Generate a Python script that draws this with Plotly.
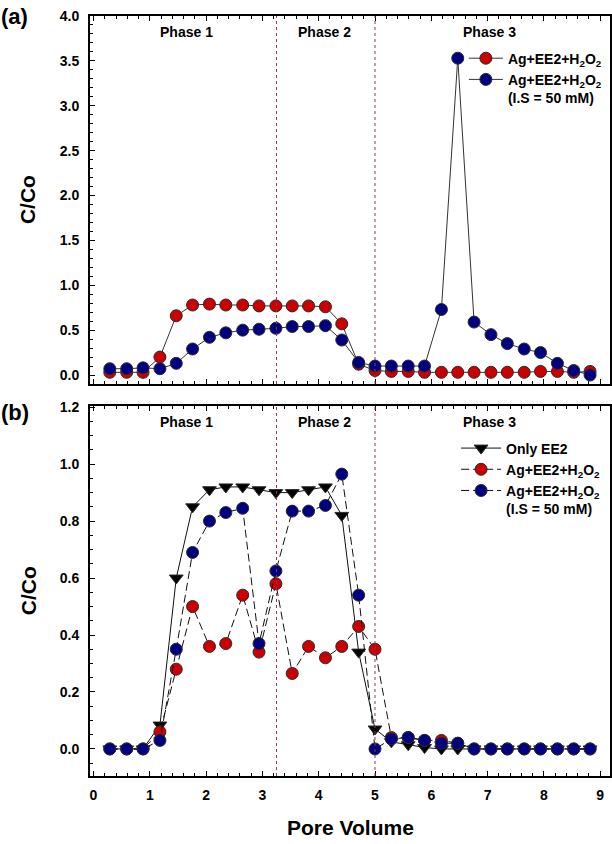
import plotly.graph_objects as go
from plotly.subplots import make_subplots

# ---- data ----
pore_volume = [0.29, 0.59, 0.88, 1.18, 1.47, 1.76, 2.06, 2.35, 2.65, 2.94,
               3.24, 3.53, 3.82, 4.12, 4.41, 4.71, 5.00, 5.29, 5.59, 5.88,
               6.18, 6.47, 6.76, 7.06, 7.35, 7.65, 7.94, 8.24, 8.53, 8.82]

a_ag = [0.03, 0.03, 0.03, 0.20, 0.66, 0.78, 0.79, 0.78, 0.78, 0.77,
        0.77, 0.77, 0.77, 0.76, 0.57, 0.12, 0.05, 0.04, 0.04, 0.03,
        0.03, 0.03, 0.03, 0.03, 0.03, 0.03, 0.04, 0.04, 0.03, 0.04]
a_ag_is = [0.07, 0.07, 0.08, 0.07, 0.13, 0.29, 0.42, 0.47, 0.50, 0.51,
           0.52, 0.54, 0.54, 0.55, 0.39, 0.14, 0.10, 0.10, 0.10, 0.10,
           0.73, 3.53, 0.59, 0.45, 0.35, 0.29, 0.25, 0.13, 0.05, 0.00]

b_ee2 = [0.0, 0.0, 0.0, 0.084, 0.60, 0.85, 0.91, 0.92, 0.92, 0.91,
         0.90, 0.90, 0.91, 0.92, 0.82, 0.34, 0.07, 0.025, 0.015, 0.005,
         0.0, 0.0, 0.0, 0.0, 0.0, 0.0, 0.0, 0.0, 0.0, 0.0]
b_ag = [0.0, 0.0, 0.0, 0.06, 0.28, 0.50, 0.36, 0.37, 0.54, 0.34,
        0.58, 0.265, 0.36, 0.32, 0.36, 0.43, 0.35, 0.04, 0.04, 0.03,
        0.03, 0.02, 0.0, 0.0, 0.0, 0.0, 0.0, 0.0, 0.0, 0.0]
b_ag_is = [0.0, 0.0, 0.0, 0.03, 0.35, 0.69, 0.80, 0.83, 0.845, 0.37,
           0.625, 0.835, 0.835, 0.855, 0.965, 0.54, 0.0, 0.035, 0.04, 0.03,
           0.02, 0.02, 0.0, 0.0, 0.0, 0.0, 0.0, 0.0, 0.0, 0.0]

phase_bounds = [3.25, 5.0]
phase_labels = ["Phase 1", "Phase 2", "Phase 3"]
phase_label_x = [1.66, 4.1, 7.04]

x_ticks = [0, 1, 2, 3, 4, 5, 6, 7, 8, 9]
ya_ticks = [0.0, 0.5, 1.0, 1.5, 2.0, 2.5, 3.0, 3.5, 4.0]
yb_ticks = [0.0, 0.2, 0.4, 0.6, 0.8, 1.0, 1.2]

name_ag = "Ag+EE2+H<sub>2</sub>O<sub>2</sub>"
name_ag_is = "Ag+EE2+H<sub>2</sub>O<sub>2</sub><br>(I.S = 50 mM)"

RED = "#cc0000"
BLUE = "#000080"
EDGE = "#2a2a2a"
FONT = "Liberation Sans, Arial, sans-serif"

fig = make_subplots(rows=2, cols=1, vertical_spacing=0.03)

mk = dict(size=12, line=dict(color=EDGE, width=1))

# panel (a)
fig.add_trace(go.Scatter(x=pore_volume, y=a_ag, mode="lines+markers", name=name_ag,
                         line=dict(color="#333333", width=1),
                         marker=dict(color=RED, symbol="circle", **mk),
                         legend="legend"), row=1, col=1)
fig.add_trace(go.Scatter(x=pore_volume, y=a_ag_is, mode="lines+markers", name=name_ag_is,
                         line=dict(color="#333333", width=1),
                         marker=dict(color=BLUE, symbol="circle", **mk),
                         legend="legend"), row=1, col=1)

# panel (b)
fig.add_trace(go.Scatter(x=pore_volume, y=b_ee2, mode="lines+markers", name="Only EE2",
                         line=dict(color="#111111", width=1),
                         marker=dict(color="#000000", symbol="triangle-down", size=12,
                                     line=dict(color=EDGE, width=1)),
                         legend="legend2"), row=2, col=1)
fig.add_trace(go.Scatter(x=pore_volume, y=b_ag, mode="lines+markers", name=name_ag,
                         line=dict(color="#111111", width=1, dash="8px,4px"),
                         marker=dict(color=RED, symbol="circle", **mk),
                         legend="legend2"), row=2, col=1)
fig.add_trace(go.Scatter(x=pore_volume, y=b_ag_is, mode="lines+markers", name=name_ag_is,
                         line=dict(color="#111111", width=1, dash="8px,4px"),
                         marker=dict(color=BLUE, symbol="circle", **mk),
                         legend="legend2"), row=2, col=1)

tickfont = dict(family=FONT, size=14, color="#000000", weight="bold")
xcommon = dict(range=[-0.062, 9.174], tickvals=x_ticks, ticks="inside", ticklen=5,
               tickwidth=1, tickcolor="black", showline=True, linewidth=2, linecolor="black",
               mirror="ticks", showgrid=False, zeroline=False, tickfont=tickfont, automargin=False,
               ticklabeloverflow="allow",
               minor=dict(dtick=0.2, ticks="inside", ticklen=3, tickcolor="black", showgrid=False))
fig.update_xaxes(**xcommon, showticklabels=False, row=1, col=1)
fig.update_xaxes(**xcommon, showticklabels=True, ticklabelstandoff=5, row=2, col=1)

ycommon = dict(ticks="inside", ticklen=5, tickwidth=1, tickcolor="black", showline=True,
               linewidth=2, linecolor="black", mirror=True, showgrid=False, zeroline=False,
               tickfont=tickfont, ticklabelstandoff=6, automargin=False,
               ticklabeloverflow="allow")
fig.update_yaxes(**ycommon, range=[-0.1, 4.0], tickvals=ya_ticks,
                 ticktext=[f"{v:.1f}" for v in ya_ticks],
                 minor=dict(dtick=0.1, ticks="inside", ticklen=3, tickcolor="black", showgrid=False),
                 row=1, col=1)
fig.update_yaxes(**ycommon, range=[-0.095, 1.204], tickvals=yb_ticks,
                 ticktext=[f"{v:.1f}" for v in yb_ticks],
                 minor=dict(dtick=0.05, ticks="inside", ticklen=3, tickcolor="black", showgrid=False),
                 row=2, col=1)

fig.update_layout(
    xaxis=dict(domain=[0, 1]), xaxis2=dict(domain=[0, 1]),
    yaxis=dict(domain=[0.5158, 1.0]), yaxis2=dict(domain=[0.0, 0.4868]),
)

# phase dividers and labels
for xr, yr in (("x", "y"), ("x2", "y2")):
    for xb in phase_bounds:
        fig.add_shape(type="line", xref=xr, yref=f"{yr} domain", x0=xb, x1=xb, y0=0, y1=1,
                      line=dict(color="#8b3a50", width=1, dash="dot"))
    for lab, lx in zip(phase_labels, phase_label_x):
        fig.add_annotation(x=lx, y=0.985, xref=xr, yref=f"{yr} domain", text=f"<b>{lab}</b>",
                           showarrow=False, yanchor="top",
                           font=dict(family=FONT, size=14, color="black"))

# axis titles as annotations
titlefont = dict(family=FONT, size=21, color="black")
fig.add_annotation(x=-0.119, y=(0.5158 + 1.0) / 2, xref="paper", yref="paper",
                   text="<b>C/Co</b>", textangle=-90, showarrow=False,
                   xanchor="center", yanchor="middle", font=titlefont)
fig.add_annotation(x=-0.119, y=0.4868 / 2, xref="paper", yref="paper",
                   text="<b>C/Co</b>", textangle=-90, showarrow=False,
                   xanchor="center", yanchor="middle", font=titlefont)
fig.add_annotation(x=0.5, y=-0.068, xref="paper", yref="paper",
                   text="<b>Pore Volume</b>", showarrow=False,
                   xanchor="center", yanchor="middle", font=titlefont)

fig.add_annotation(x=-0.145, y=1.0, xref="paper", yref="paper", text="<b>(a)</b>",
                   showarrow=False, xanchor="center", yanchor="middle",
                   font=dict(family=FONT, size=22, color="black"))
fig.add_annotation(x=-0.145, y=0.4868 - 0.008, xref="paper", yref="paper", text="<b>(b)</b>",
                   showarrow=False, xanchor="center", yanchor="middle",
                   font=dict(family=FONT, size=22, color="black"))

legfont = dict(family=FONT, size=14, color="black", weight="bold")
fig.update_layout(
    width=612, height=844,
    margin=dict(l=90, r=2, t=16, b=68, autoexpand=False),
    paper_bgcolor="white", plot_bgcolor="white",
    legend=dict(x=0.719, y=0.965, xanchor="left", yanchor="top", font=legfont,
                bgcolor="rgba(0,0,0,0)", valign="top", tracegroupgap=0, itemwidth=34),
    legend2=dict(x=0.704, y=0.452, xanchor="left", yanchor="top", font=legfont,
                 bgcolor="rgba(0,0,0,0)", valign="top", tracegroupgap=0, itemwidth=40),
)

fig.write_html("out.html", config={"displayModeBar": False},
               post_script="document.body.style.margin='0';document.body.style.overflow='hidden';")
